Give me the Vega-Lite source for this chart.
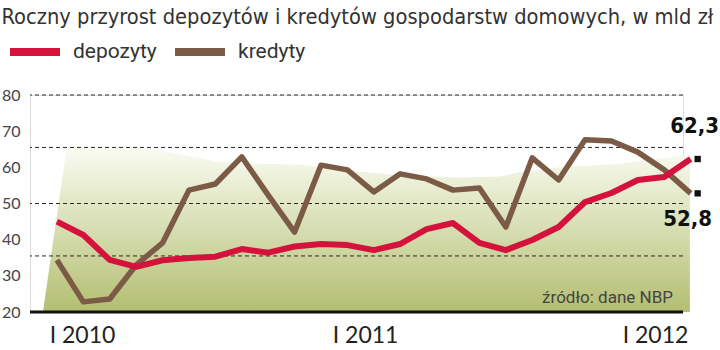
{
  "$schema": "https://vega.github.io/schema/vega-lite/v6.json",
  "width": 653,
  "height": 217,
  "autosize": {"type": "none"},
  "padding": {"left": 30, "top": 95, "right": 37, "bottom": 38},
  "background": "white",
  "config": {
    "axisY": {"labelOverlap": false, "labelFlush": false, "tickCount": 7}
  },
  "title": {
    "text": "Roczny przyrost depozytów i kredytów gospodarstw domowych, w mld zł",
    "anchor": "start",
    "frame": "bounds",
    "dx": 0,
    "offset": -6,
    "font": "DejaVu Sans Condensed",
    "fontSize": 21.7,
    "fontWeight": "normal",
    "color": "#333333"
  },
  "datasets": {
    "series": [
      {"month": 0, "value": 45.0, "seria": "depozyty"},
      {"month": 1, "value": 41.3, "seria": "depozyty"},
      {"month": 2, "value": 34.4, "seria": "depozyty"},
      {"month": 3, "value": 32.5, "seria": "depozyty"},
      {"month": 4, "value": 34.3, "seria": "depozyty"},
      {"month": 5, "value": 34.9, "seria": "depozyty"},
      {"month": 6, "value": 35.3, "seria": "depozyty"},
      {"month": 7, "value": 37.4, "seria": "depozyty"},
      {"month": 8, "value": 36.4, "seria": "depozyty"},
      {"month": 9, "value": 38.1, "seria": "depozyty"},
      {"month": 10, "value": 38.8, "seria": "depozyty"},
      {"month": 11, "value": 38.5, "seria": "depozyty"},
      {"month": 12, "value": 37.1, "seria": "depozyty"},
      {"month": 13, "value": 38.8, "seria": "depozyty"},
      {"month": 14, "value": 42.9, "seria": "depozyty"},
      {"month": 15, "value": 44.6, "seria": "depozyty"},
      {"month": 16, "value": 39.1, "seria": "depozyty"},
      {"month": 17, "value": 37.1, "seria": "depozyty"},
      {"month": 18, "value": 39.9, "seria": "depozyty"},
      {"month": 19, "value": 43.5, "seria": "depozyty"},
      {"month": 20, "value": 50.4, "seria": "depozyty"},
      {"month": 21, "value": 52.9, "seria": "depozyty"},
      {"month": 22, "value": 56.5, "seria": "depozyty"},
      {"month": 23, "value": 57.3, "seria": "depozyty"},
      {"month": 24, "value": 62.3, "seria": "depozyty"},
      {"month": 0, "value": 34.4, "seria": "kredyty"},
      {"month": 1, "value": 22.8, "seria": "kredyty"},
      {"month": 2, "value": 23.6, "seria": "kredyty"},
      {"month": 3, "value": 33.0, "seria": "kredyty"},
      {"month": 4, "value": 39.1, "seria": "kredyty"},
      {"month": 5, "value": 53.7, "seria": "kredyty"},
      {"month": 6, "value": 55.4, "seria": "kredyty"},
      {"month": 7, "value": 62.9, "seria": "kredyty"},
      {"month": 8, "value": 52.3, "seria": "kredyty"},
      {"month": 9, "value": 42.1, "seria": "kredyty"},
      {"month": 10, "value": 60.6, "seria": "kredyty"},
      {"month": 11, "value": 59.3, "seria": "kredyty"},
      {"month": 12, "value": 53.2, "seria": "kredyty"},
      {"month": 13, "value": 58.2, "seria": "kredyty"},
      {"month": 14, "value": 56.8, "seria": "kredyty"},
      {"month": 15, "value": 53.7, "seria": "kredyty"},
      {"month": 16, "value": 54.3, "seria": "kredyty"},
      {"month": 17, "value": 43.5, "seria": "kredyty"},
      {"month": 18, "value": 62.6, "seria": "kredyty"},
      {"month": 19, "value": 56.5, "seria": "kredyty"},
      {"month": 20, "value": 67.6, "seria": "kredyty"},
      {"month": 21, "value": 67.3, "seria": "kredyty"},
      {"month": 22, "value": 64.2, "seria": "kredyty"},
      {"month": 23, "value": 59.3, "seria": "kredyty"},
      {"month": 24, "value": 52.8, "seria": "kredyty"}
    ],
    "backdrop": [
      {"month": -0.53, "value": 20},
      {"month": 0.38, "value": 66.0},
      {"month": 1.63, "value": 66.0},
      {"month": 3.52, "value": 65.4},
      {"month": 4.66, "value": 63.6},
      {"month": 6.18, "value": 61.5},
      {"month": 7.69, "value": 61.0},
      {"month": 9.21, "value": 60.8},
      {"month": 10.72, "value": 59.3},
      {"month": 12.99, "value": 57.8},
      {"month": 15.26, "value": 57.2},
      {"month": 16.78, "value": 57.5},
      {"month": 17.54, "value": 58.7},
      {"month": 19.05, "value": 60.0},
      {"month": 21.32, "value": 61.0},
      {"month": 22.84, "value": 62.5},
      {"month": 23.97, "value": 63.4}
    ],
    "grid": [{"value": 80}, {"value": 65.5}, {"value": 50}, {"value": 35.5}],
    "ends": [
      {"month": 24, "value": 62.3, "label": "62,3", "seria": "depozyty"},
      {"month": 24, "value": 52.8, "label": "52,8", "seria": "kredyty"}
    ]
  },
  "layer": [
    {
      "data": {"name": "backdrop"},
      "mark": {
        "type": "area",
        "color": {
          "gradient": "linear", "x1": 0, "y1": 0, "x2": 0, "y2": 1,
          "stops": [
            {"offset": 0, "color": "#fbfcf4"},
            {"offset": 0.25, "color": "#e9edd3"},
            {"offset": 1, "color": "#b3be70"}
          ]
        }
      },
      "encoding": {
        "x": {"field": "month", "type": "quantitative", "title": null, "scale": {"domain": [-1.02, 23.71], "nice": false, "zero": false},
          "axis": {"values": [0.95, 11.67, 22.65], "labelExpr": "datum.value < 5 ? 'I 2010' : (datum.value < 15 ? 'I 2011' : 'I 2012')",
            "grid": false, "ticks": false, "domain": false, "title": null, "labelFont": "Lato", "labelFontSize": 23, "labelColor": "#222222",
            "labelPadding": 12, "labelFlush": false, "labelOverlap": false}},
        "y": {"field": "value", "type": "quantitative", "title": null, "scale": {"domain": [20, 80], "nice": false, "zero": false},
          "axis": {"values": [20, 30, 40, 50, 60, 70, 80], "grid": false, "ticks": false, "domain": false, "title": null,
            "labelFont": "Lato", "labelFontSize": 16, "labelColor": "#444444", "labelPadding": 10, "labelOverlap": false, "labelFlush": false}},
        "y2": {"datum": 20}
      }
    },
    {
      "data": {"name": "grid"},
      "mark": {"type": "rule", "color": "#2a2a2a", "strokeWidth": 1, "strokeDash": [4, 3]},
      "encoding": {
        "y": {"field": "value", "type": "quantitative", "title": null, "scale": {"domain": [20, 80], "nice": false, "zero": false},
          "axis": {"values": [20, 30, 40, 50, 60, 70, 80], "grid": false, "ticks": false, "domain": false, "title": null,
            "labelFont": "Lato", "labelFontSize": 16, "labelColor": "#444444", "labelPadding": 10, "labelOverlap": false, "labelFlush": false}}
      }
    },
    {
      "data": {"values": [{"value": 20}]},
      "mark": {"type": "rule", "color": "#111111", "strokeWidth": 3},
      "encoding": {
        "y": {"field": "value", "type": "quantitative", "title": null, "scale": {"domain": [20, 80], "nice": false, "zero": false},
          "axis": {"values": [20, 30, 40, 50, 60, 70, 80], "grid": false, "ticks": false, "domain": false, "title": null,
            "labelFont": "Lato", "labelFontSize": 16, "labelColor": "#444444", "labelPadding": 10, "labelOverlap": false, "labelFlush": false}}
      }
    },
    {
      "data": {"name": "series"},
      "transform": [{"filter": "datum.seria === 'kredyty'"}],
      "mark": {"type": "line", "strokeWidth": 5.5, "strokeJoin": "round"},
      "encoding": {
        "x": {"field": "month", "type": "quantitative", "title": null, "scale": {"domain": [-1.02, 23.71], "nice": false, "zero": false}},
        "y": {"field": "value", "type": "quantitative", "title": null, "scale": {"domain": [20, 80], "nice": false, "zero": false},
          "axis": {"values": [20, 30, 40, 50, 60, 70, 80], "grid": false, "ticks": false, "domain": false, "title": null,
            "labelFont": "Lato", "labelFontSize": 16, "labelColor": "#444444", "labelPadding": 10, "labelOverlap": false, "labelFlush": false}},
        "color": {"field": "seria", "type": "nominal",
          "scale": {"domain": ["depozyty", "kredyty"], "range": ["#d4123c", "#7b5a46"]},
          "legend": {"orient": "none", "legendX": -24, "legendY": -72, "direction": "horizontal", "title": null,
            "symbolType": "stroke", "symbolSize": 2500, "symbolStrokeWidth": 8,
            "labelFont": "Roboto", "labelFontSize": 21, "labelColor": "#333333",
            "labelOffset": 9, "columnPadding": 2}}
      }
    },
    {
      "data": {"name": "series"},
      "transform": [{"filter": "datum.seria === 'depozyty'"}],
      "mark": {"type": "line", "strokeWidth": 6, "strokeJoin": "round"},
      "encoding": {
        "x": {"field": "month", "type": "quantitative", "title": null, "scale": {"domain": [-1.02, 23.71], "nice": false, "zero": false}},
        "y": {"field": "value", "type": "quantitative", "title": null, "scale": {"domain": [20, 80], "nice": false, "zero": false},
          "axis": {"values": [20, 30, 40, 50, 60, 70, 80], "grid": false, "ticks": false, "domain": false, "title": null,
            "labelFont": "Lato", "labelFontSize": 16, "labelColor": "#444444", "labelPadding": 10, "labelOverlap": false, "labelFlush": false}},
        "color": {"field": "seria", "type": "nominal", "scale": {"domain": ["depozyty", "kredyty"], "range": ["#d4123c", "#7b5a46"]}}
      }
    },
    {
      "data": {"name": "ends"},
      "mark": {"type": "point", "shape": "square", "filled": true, "size": 40, "color": "#111111", "opacity": 1, "xOffset": 7},
      "encoding": {
        "x": {"field": "month", "type": "quantitative", "title": null, "scale": {"domain": [-1.02, 23.71], "nice": false, "zero": false}},
        "y": {"field": "value", "type": "quantitative", "title": null, "scale": {"domain": [20, 80], "nice": false, "zero": false},
          "axis": {"values": [20, 30, 40, 50, 60, 70, 80], "grid": false, "ticks": false, "domain": false, "title": null,
            "labelFont": "Lato", "labelFontSize": 16, "labelColor": "#444444", "labelPadding": 10, "labelOverlap": false, "labelFlush": false}}
      }
    },
    {
      "data": {"name": "ends"},
      "transform": [{"filter": "datum.seria === 'depozyty'"}],
      "mark": {"type": "text", "font": "DejaVu Sans Condensed", "fontWeight": "bold", "fontSize": 22, "color": "#111111", "align": "center", "baseline": "middle", "dx": 4, "dy": -33},
      "encoding": {
        "x": {"field": "month", "type": "quantitative", "title": null, "scale": {"domain": [-1.02, 23.71], "nice": false, "zero": false}},
        "y": {"field": "value", "type": "quantitative", "title": null, "scale": {"domain": [20, 80], "nice": false, "zero": false},
          "axis": {"values": [20, 30, 40, 50, 60, 70, 80], "grid": false, "ticks": false, "domain": false, "title": null,
            "labelFont": "Lato", "labelFontSize": 16, "labelColor": "#444444", "labelPadding": 10, "labelOverlap": false, "labelFlush": false}},
        "text": {"field": "label"}
      }
    },
    {
      "data": {"name": "ends"},
      "transform": [{"filter": "datum.seria === 'kredyty'"}],
      "mark": {"type": "text", "font": "DejaVu Sans Condensed", "fontWeight": "bold", "fontSize": 22, "color": "#111111", "align": "center", "baseline": "middle", "dx": -3, "dy": 26},
      "encoding": {
        "x": {"field": "month", "type": "quantitative", "title": null, "scale": {"domain": [-1.02, 23.71], "nice": false, "zero": false}},
        "y": {"field": "value", "type": "quantitative", "title": null, "scale": {"domain": [20, 80], "nice": false, "zero": false},
          "axis": {"values": [20, 30, 40, 50, 60, 70, 80], "grid": false, "ticks": false, "domain": false, "title": null,
            "labelFont": "Lato", "labelFontSize": 16, "labelColor": "#444444", "labelPadding": 10, "labelOverlap": false, "labelFlush": false}},
        "text": {"field": "label"}
      }
    },
    {
      "data": {"values": [{"note": "źródło: dane NBP"}]},
      "mark": {"type": "text", "font": "Roboto", "fontSize": 17, "color": "#444444", "align": "right", "baseline": "middle"},
      "encoding": {
        "x": {"datum": 23.33, "type": "quantitative", "scale": {"domain": [-1.02, 23.71], "nice": false, "zero": false}},
        "y": {"datum": 23.9, "type": "quantitative", "scale": {"domain": [20, 80], "nice": false, "zero": false},
          "axis": {"values": [20, 30, 40, 50, 60, 70, 80], "grid": false, "ticks": false, "domain": false, "title": null,
            "labelFont": "Lato", "labelFontSize": 16, "labelColor": "#444444", "labelPadding": 10, "labelOverlap": false, "labelFlush": false}},
        "text": {"field": "note"}
      }
    }
  ]
}
